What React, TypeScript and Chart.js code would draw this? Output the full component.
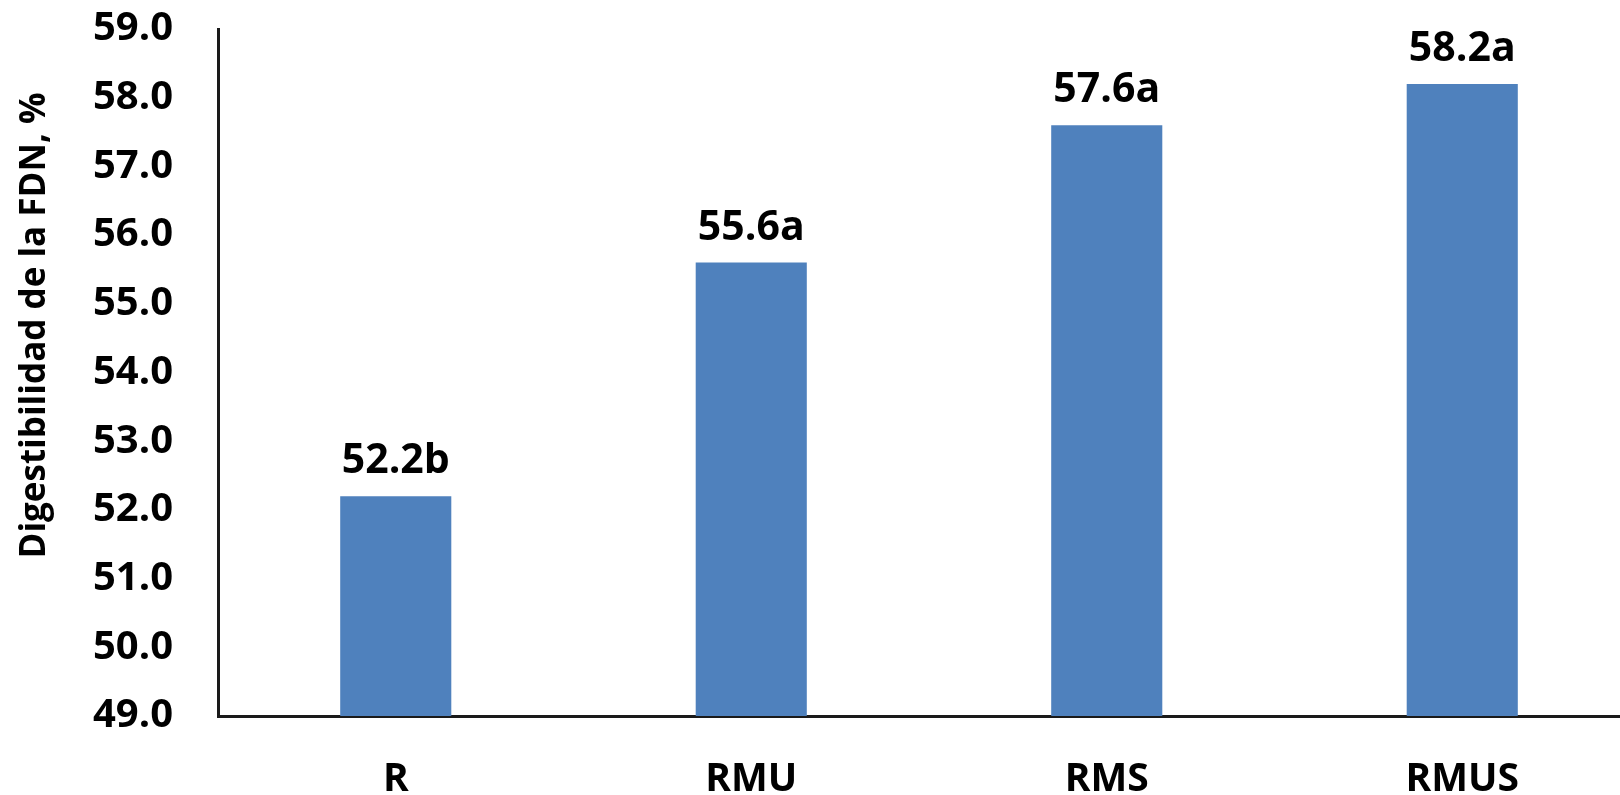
import React, { useEffect, useRef } from "react";
import { Chart, registerables } from "chart.js";

Chart.register(...registerables);

const categories = ["R", "RMU", "RMS", "RMUS"];
const values = [52.2, 55.6, 57.6, 58.2];
const letters = ["b", "a", "a", "a"];
const yMin = 49;
const yMax = 59;
const yStep = 1;
const yTitle = "Digestibilidad de la FDN, %";

const FONT = "'Open Sans', sans-serif";
const BAR_COLOR = "#4F81BD";
const AXIS_COLOR = "#1a1a1a";

export default function App() {
  const ref = useRef<HTMLCanvasElement>(null);

  useEffect(() => {
    document.body.style.margin = "0";
    document.body.style.overflow = "hidden";
    const canvas = ref.current!;

    const labelPlugin = {
      id: "valueLabels",
      afterDatasetsDraw(chart: any) {
        const ctx = chart.ctx;
        const meta = chart.getDatasetMeta(0);
        ctx.save();
        ctx.font = `bold 41px ${FONT}`;
        ctx.fillStyle = "#000";
        ctx.textAlign = "center";
        ctx.textBaseline = "alphabetic";
        meta.data.forEach((bar: any, i: number) => {
          ctx.fillText(values[i].toFixed(1) + letters[i], bar.x, bar.y - 23);
        });
        const { left, top, bottom } = chart.chartArea;
        ctx.translate(left - 173, (top + bottom) / 2 - 47);
        ctx.rotate(-Math.PI / 2);
        ctx.font = `bold 35px ${FONT}`;
        ctx.fillText(yTitle, 0, 0);
        ctx.restore();
      },
    };

    const chart = new Chart(canvas, {
      type: "bar",
      data: {
        labels: categories,
        datasets: [
          {
            data: values,
            backgroundColor: BAR_COLOR,
            barPercentage: 0.3125,
            categoryPercentage: 1,
          },
        ],
      },
      options: {
        responsive: false,
        animation: false,
        layout: { padding: { top: 29, right: 5, left: 0, bottom: 0 } },
        plugins: {
          legend: { display: false },
          tooltip: { enabled: false },
        },
        scales: {
          x: {
            grid: { display: false, drawTicks: false },
            border: { display: true, color: AXIS_COLOR, width: 3 },
            ticks: {
              font: { family: FONT, weight: "bold", size: 39 },
              color: "#000",
              padding: 40,
            },
            afterFit: (s: any) => {
              s.height = 114;
              s.paddingLeft = 0;
              s.paddingRight = 0;
              s.paddingTop = 0;
              s.paddingBottom = 0;
            },
          },
          y: {
            min: yMin,
            max: yMax,
            ticks: {
              stepSize: yStep,
              callback: (v: any) => Number(v).toFixed(1),
              font: { family: FONT, weight: "bold", size: 40 },
              color: "#000",
              padding: 45,
            },
            grid: { display: false, drawTicks: false },
            border: { display: true, color: AXIS_COLOR, width: 3 },
            afterFit: (s: any) => {
              s.width = 218;
              s.paddingLeft = 0;
              s.paddingRight = 0;
              s.paddingTop = 0;
              s.paddingBottom = 0;
            },
          },
        },
      },
      plugins: [labelPlugin],
    });
    return () => chart.destroy();
  }, []);

  return (
    <div style={{ width: 1620, height: 795, overflow: "hidden", position: "relative" }}>
      <canvas ref={ref} width={1645} height={830} style={{ display: "block" }} />
    </div>
  );
}
